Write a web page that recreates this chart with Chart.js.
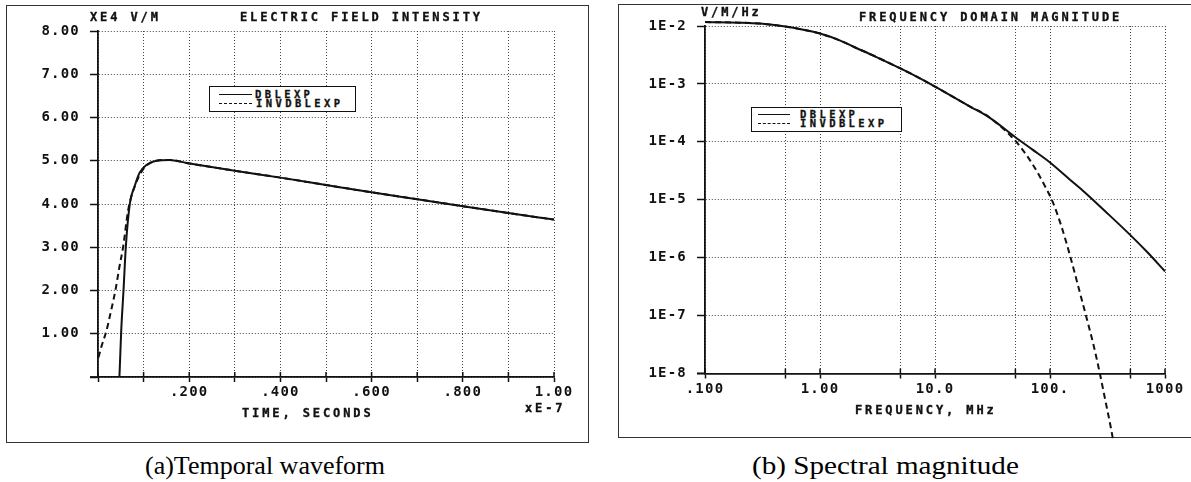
<!DOCTYPE html>
<html><head><meta charset="utf-8">
<script src="https://cdn.jsdelivr.net/npm/chart.js@4.4.0/dist/chart.umd.min.js"></script>
<style>
body{margin:0;width:1191px;height:482px;background:#fff;position:relative;overflow:hidden;font-family:"DejaVu Sans Mono",monospace;}
.box{position:absolute;border:1.5px solid #333;box-sizing:border-box;}
.t{position:absolute;font-weight:bold;font-size:12px;letter-spacing:2.9px;color:#111;white-space:nowrap;line-height:12px;-webkit-text-stroke:0.35px #111;}
.lt{position:absolute;font-weight:bold;font-size:10.5px;letter-spacing:3.4px;color:#111;white-space:nowrap;line-height:10px;-webkit-text-stroke:0.3px #111;}
canvas{position:absolute;}
.cap{position:absolute;font-family:"Liberation Serif","Times New Roman",serif;font-size:26px;color:#000;white-space:nowrap;line-height:26px;transform-origin:0 0;}
.leg{position:absolute;border:1.5px solid #111;box-sizing:border-box;background:#fff;}
.ls{position:absolute;height:0;border-top:1.8px solid #111;}
.ld{position:absolute;height:0;border-top:1.8px dashed #111;}
</style></head>
<body>
<div class="box" style="left:6px;top:5px;width:583px;height:438px;"></div>
<div class="box" style="left:618px;top:4px;width:600px;height:434px;"></div>
<canvas id="cA" width="600" height="450" style="left:0;top:0;"></canvas>
<canvas id="cB" width="591" height="450" style="left:600px;top:0;"></canvas>

<div class="t" style="left:90px;top:11px;">XE4 V/M</div>
<div class="t" style="left:240px;top:11px;">ELECTRIC FIELD INTENSITY</div>
<div class="t" style="left:242px;top:407px;">TIME, SECONDS</div>
<div class="t" style="left:525px;top:402px;">xE-7</div>

<div class="t" style="left:701px;top:6px;">V/M/Hz</div>
<div class="t" style="left:859px;top:11px;">FREQUENCY DOMAIN MAGNITUDE</div>
<div class="t" style="left:855px;top:404px;">FREQUENCY, MHz</div>

<div class="leg" style="left:209px;top:86px;width:147px;height:26px;">
  <div class="ls" style="left:9px;top:7px;width:33px;"></div>
  <div class="ld" style="left:9px;top:16px;width:33px;"></div>
  <div class="lt" style="left:45px;top:2px;">DBLEXP</div>
  <div class="lt" style="left:46px;top:11px;">INVDBLEXP</div>
</div>
<div class="leg" style="left:751px;top:107px;width:151px;height:25px;">
  <div class="ls" style="left:6px;top:6px;width:32px;"></div>
  <div class="ld" style="left:6px;top:15px;width:32px;"></div>
  <div class="lt" style="left:48px;top:1px;">DBLEXP</div>
  <div class="lt" style="left:48px;top:10px;">INVDBLEXP</div>
</div>

<div class="cap" style="left:145px;top:453px;">(a)Temporal waveform</div>
<div class="cap" style="left:752px;top:453px;transform:scaleX(1.12);">(b) Spectral magnitude</div>

<script>
// ---------- (a) temporal waveform: time in units of 1E-7 s, field in units of 1E4 V/m
const timeDbl  = [0.047, 0.049, 0.051, 0.056, 0.061, 0.070, 0.080, 0.091, 0.106, 0.128, 0.157, 0.194, 0.3, 0.4, 0.5, 0.6, 0.7, 0.8, 0.9, 1.0];
const fieldDbl = [0, 0.55, 1.09, 2.01, 3.01, 4.02, 4.40, 4.72, 4.90, 5.00, 5.02, 4.95, 4.77, 4.61, 4.44, 4.27, 4.11, 3.95, 3.79, 3.64];
const timeInv  = [0.001, 0.008, 0.018, 0.028, 0.039, 0.047, 0.055, 0.066, 0.077, 0.088, 0.100, 0.112, 0.128, 0.157, 0.194, 0.3, 0.4, 0.5, 0.6, 0.7, 0.8, 0.9, 1.0];
const fieldInv = [0.45, 0.72, 1.05, 1.50, 2.05, 2.55, 3.00, 3.85, 4.30, 4.60, 4.82, 4.93, 5.00, 5.02, 4.95, 4.77, 4.61, 4.44, 4.27, 4.11, 3.95, 3.79, 3.64];
const timeTicks = [0, 0.1, 0.2, 0.3, 0.4, 0.5, 0.6, 0.7, 0.8, 0.9, 1.0];
const timeTickLabels = ['', '', '.200', '', '.400', '', '.600', '', '.800', '', '1.00'];
const fieldTicks = [0, 1, 2, 3, 4, 5, 6, 7, 8];
const fieldTickLabels = ['', '1.00', '2.00', '3.00', '4.00', '5.00', '6.00', '7.00', '8.00'];

// ---------- (b) spectral magnitude: frequency in MHz, magnitude in V/m/Hz
const freqDbl = [0.1, 0.2, 0.3, 0.5, 0.7, 1, 1.5, 2, 3, 5, 7, 10, 15, 20, 30, 50, 70, 100, 150, 200, 300, 500, 700, 1000];
const specDbl = [1.17e-2, 1.14e-2, 1.1e-2, 9.8e-3, 8.7e-3, 7.4e-3, 5.6e-3, 4.3e-3, 3.0e-3, 1.85e-3, 1.32e-3, 9.0e-4, 5.7e-4, 4.1e-4, 2.6e-4, 1.2e-4, 7.4e-5, 4.4e-5, 2.2e-5, 1.35e-5, 6.4e-6, 2.45e-6, 1.25e-6, 5.8e-7];
const freqInv = [0.1, 0.2, 0.3, 0.5, 0.7, 1, 1.5, 2, 3, 5, 7, 10, 15, 20, 27, 35, 45, 55, 70, 90, 106, 125, 150, 180, 210, 240, 270, 305, 340, 352];
const specInv = [1.17e-2, 1.14e-2, 1.1e-2, 9.8e-3, 8.7e-3, 7.4e-3, 5.6e-3, 4.3e-3, 3.0e-3, 1.85e-3, 1.32e-3, 9.0e-4, 5.7e-4, 4.1e-4, 3.0e-4, 2.05e-4, 1.3e-4, 8.3e-5, 4.2e-5, 1.75e-5, 9.0e-6, 3.6e-6, 1.05e-6, 2.7e-7, 8.5e-8, 3.0e-8, 1.05e-8, 3.2e-9, 1.1e-9, 7.5e-10];
const freqTicks = [0.1, 0.5, 1, 5, 10, 50, 100, 500, 1000];
const freqTickLabels = ['.100', '', '1.00', '', '10.0', '', '100.', '', '1000'];
const specTicks = [1e-8, 1e-7, 1e-6, 1e-5, 1e-4, 1e-3, 1e-2];
const specTickLabels = ['1E-8', '1E-7', '1E-6', '1E-5', '1E-4', '1E-3', '1E-2'];

const INK = '#111';
const tickFont = {family: 'DejaVu Sans Mono', weight: 'bold', size: 14};
const spacing = {
  id: 'spacing',
  beforeDraw(chart) { try { chart.ctx.letterSpacing = '1.2px'; } catch (e) {} }
};
const axisExtras = {
  id: 'axisExtras',
  afterDraw(chart, args, opts) {
    const {ctx, chartArea: a} = chart;
    const xs = chart.scales.x;
    ctx.save();
    ctx.strokeStyle = INK;
    ctx.lineWidth = 1.8;
    ctx.beginPath();
    ctx.moveTo(a.left - opts.ext, a.bottom);
    ctx.lineTo(a.left, a.bottom);
    ctx.stroke();
    ctx.lineWidth = 1.5;
    xs.ticks.forEach(t => {
      const px = xs.getPixelForValue(t.value);
      ctx.beginPath();
      ctx.moveTo(px, a.bottom - 5);
      ctx.lineTo(px, a.bottom);
      ctx.stroke();
    });
    ctx.restore();
  }
};
function pts(xs, ys) { return xs.map((x, i) => ({x: x, y: ys[i]})); }
function lineDs(label, data, dashed) {
  return {label, data, borderColor: INK, borderWidth: 2, pointRadius: 0,
    cubicInterpolationMode: 'monotone', clip: false, fill: false,
    borderDash: dashed ? [6, 4] : []};
}
function gridOpts() { return {color: '#444', lineWidth: 1, drawTicks: true, tickLength: 8, tickColor: INK, tickWidth: 1.5}; }
function borderOpts() { return {display: true, color: INK, width: 1.8, dash: [1, 2]}; }

new Chart(document.getElementById('cA'), {
  type: 'line',
  data: {datasets: [
    lineDs('DBLEXP', pts(timeDbl, fieldDbl), false),
    lineDs('INVDBLEXP', pts(timeInv, fieldInv), true)
  ]},
  options: {
    responsive: false, animation: false, events: [],
    plugins: {legend: {display: false}, tooltip: {enabled: false}, axisExtras: {ext: 8}},
    layout: {padding: {left: 0, top: 31, right: 46, bottom: 0}},
    scales: {
      x: {type: 'linear', min: 0, max: 1,
        afterBuildTicks: s => { s.ticks = timeTicks.map(v => ({value: v})); },
        afterFit: s => { s.height = 73; },
        ticks: {autoSkip: false, maxRotation: 0, font: tickFont, color: INK, padding: 2,
          callback: (v, i) => timeTickLabels[i]},
        grid: Object.assign(gridOpts(), {tickLength: 5}), border: borderOpts()},
      y: {type: 'linear', min: 0, max: 8,
        afterBuildTicks: s => { s.ticks = fieldTicks.map(v => ({value: v})); },
        afterFit: s => { s.width = 98; },
        ticks: {autoSkip: false, font: tickFont, color: INK, padding: 10,
          callback: (v, i) => fieldTickLabels[i]},
        grid: gridOpts(), border: borderOpts()}
    }
  },
  plugins: [spacing, axisExtras]
});

new Chart(document.getElementById('cB'), {
  type: 'line',
  data: {datasets: [
    lineDs('DBLEXP', pts(freqDbl, specDbl), false),
    lineDs('INVDBLEXP', pts(freqInv, specInv), true)
  ]},
  options: {
    responsive: false, animation: false, events: [],
    plugins: {legend: {display: false}, tooltip: {enabled: false}, axisExtras: {ext: 8}},
    layout: {padding: {left: 0, top: 26, right: 26, bottom: 0}},
    scales: {
      x: {type: 'logarithmic', min: 0.1, max: 1000,
        afterBuildTicks: s => { s.ticks = freqTicks.map(v => ({value: v})); },
        afterFit: s => { s.height = 76.5; },
        ticks: {autoSkip: false, maxRotation: 0, font: tickFont, color: INK, padding: 2,
          callback: (v, i) => freqTickLabels[i]},
        grid: Object.assign(gridOpts(), {tickLength: 5}), border: borderOpts()},
      y: {type: 'logarithmic', min: 1e-8, max: 1e-2,
        afterBuildTicks: s => { s.ticks = specTicks.map(v => ({value: v})); },
        afterFit: s => { s.width = 105; },
        ticks: {autoSkip: false, font: tickFont, color: INK, padding: 10,
          callback: (v, i) => specTickLabels[i]},
        grid: gridOpts(), border: borderOpts()}
    }
  },
  plugins: [spacing, axisExtras]
});
</script>
</body></html>
